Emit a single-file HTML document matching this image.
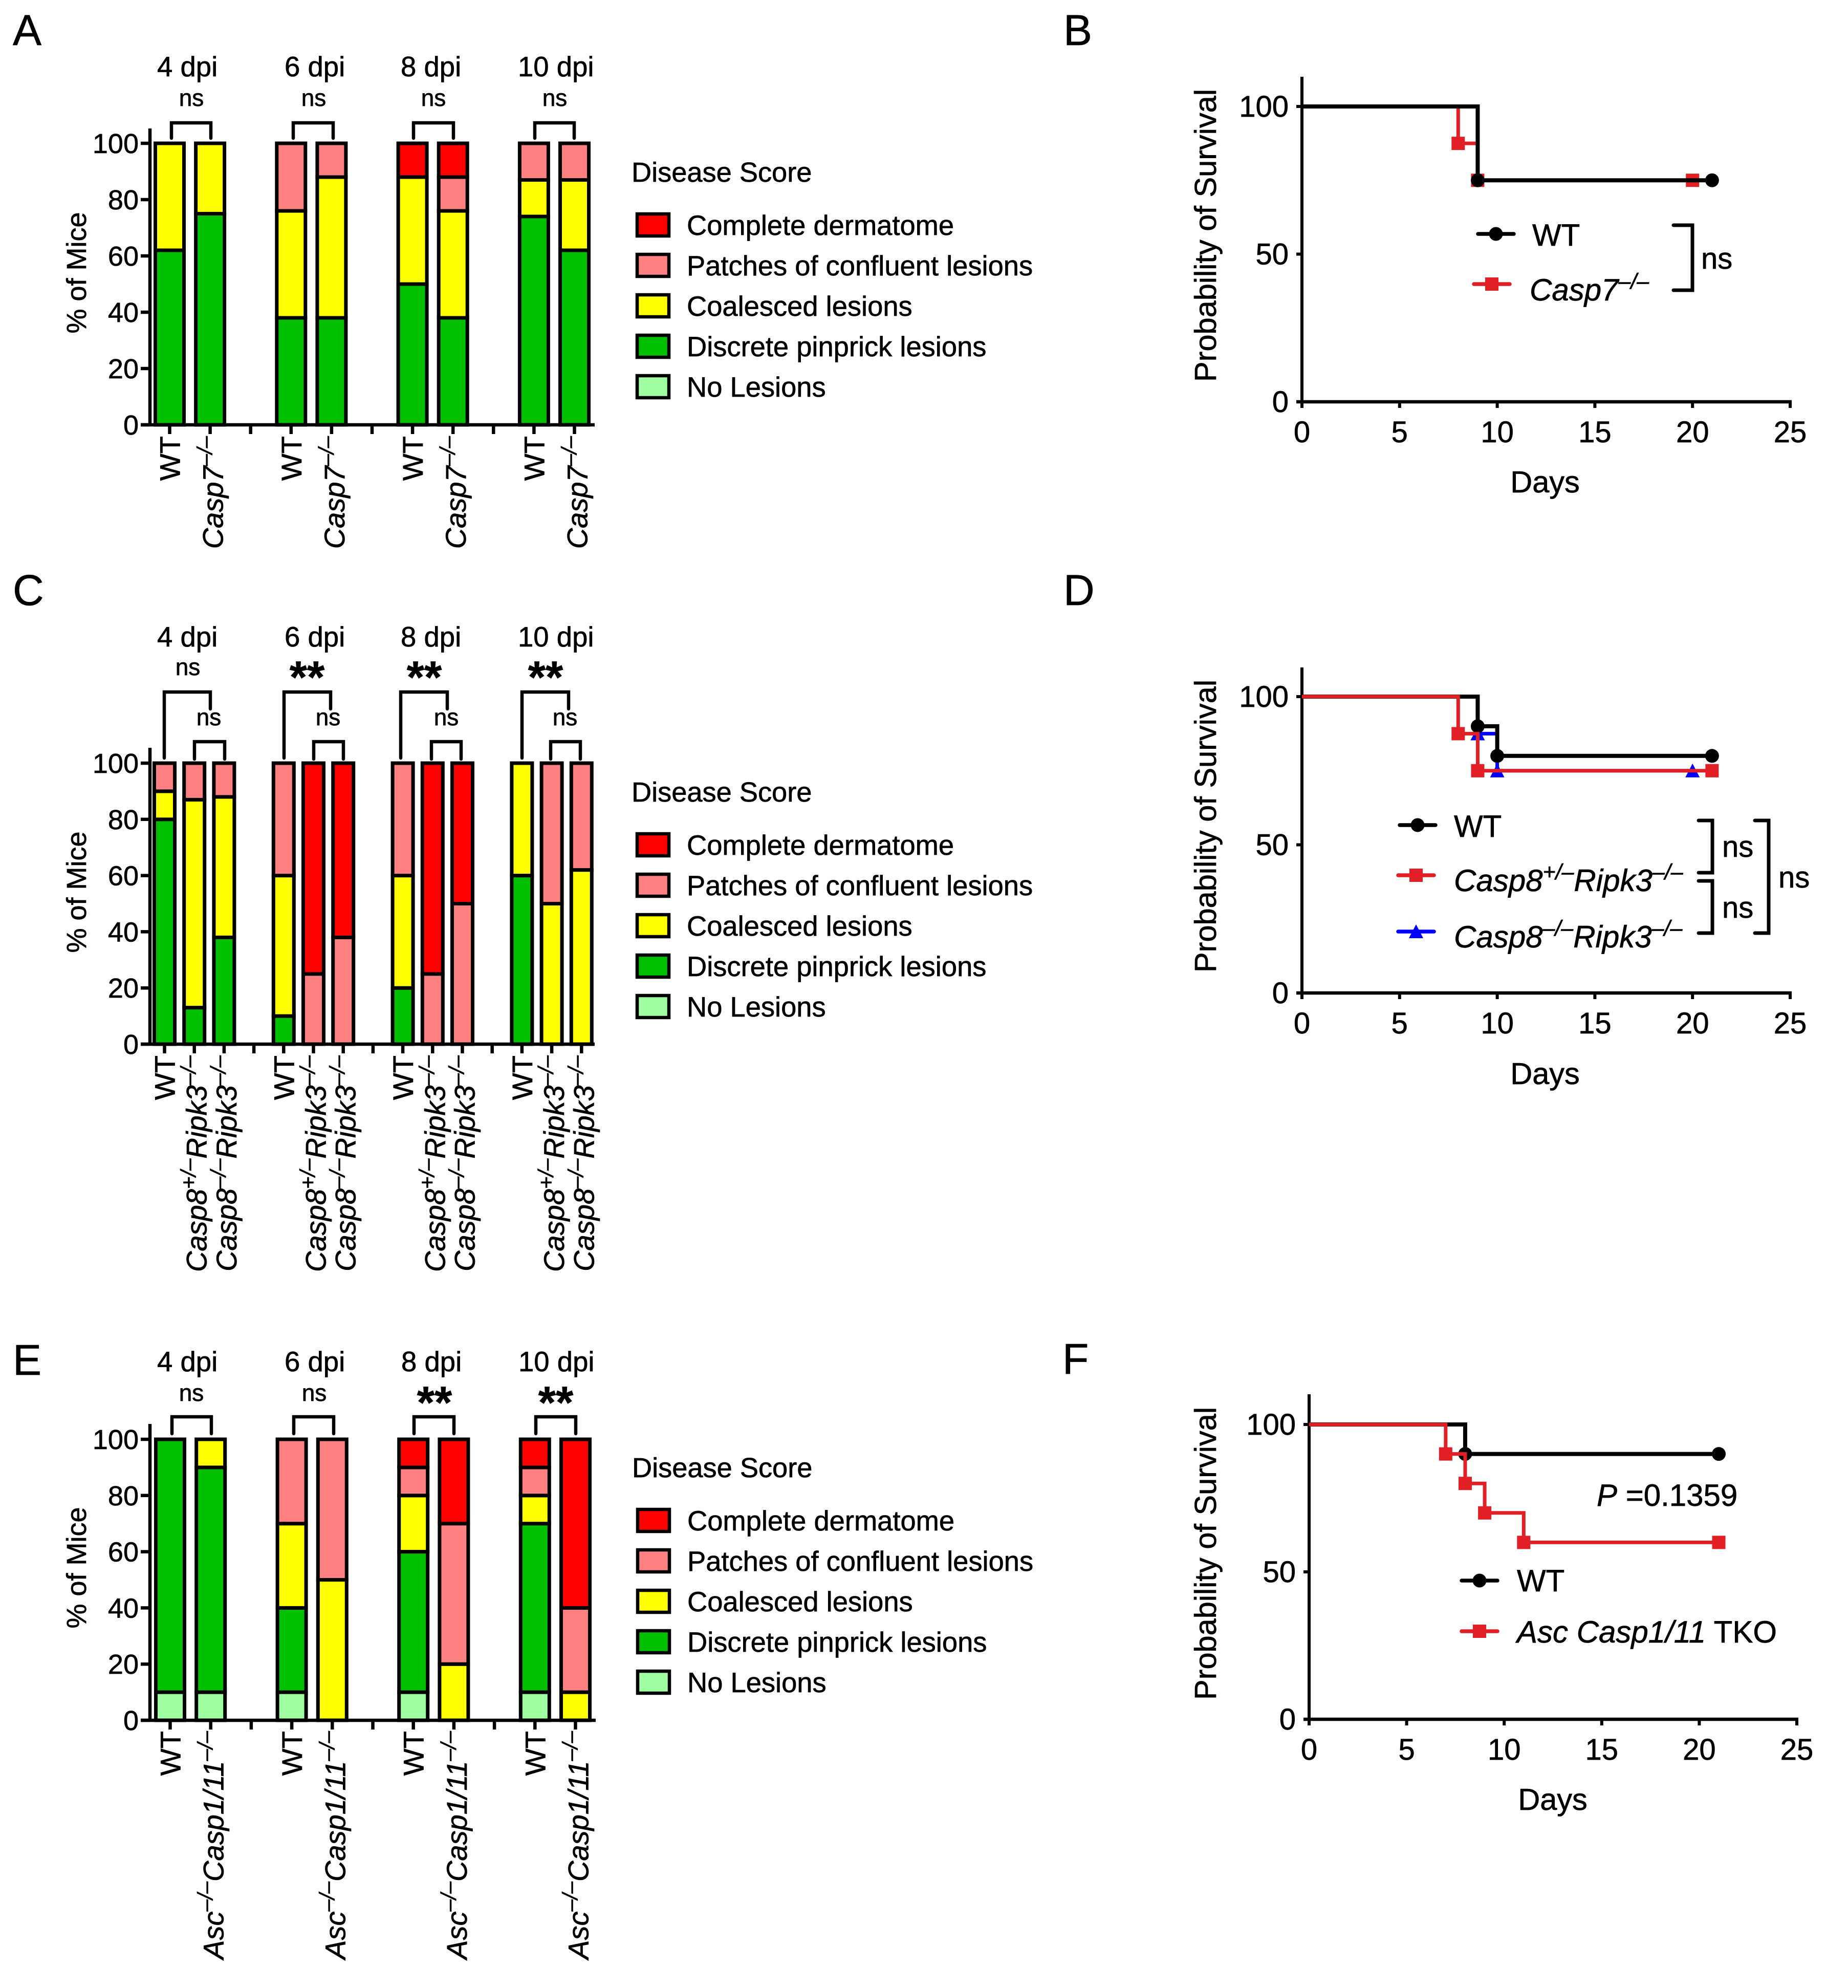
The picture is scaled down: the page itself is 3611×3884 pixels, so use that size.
<!DOCTYPE html>
<html lang="en">
<head>
<meta charset="utf-8">
<title>Disease score and survival panels</title>
<style>
html,body{margin:0;padding:0;background:#fff;}
svg{display:block;}
text{font-family:"Liberation Sans",Arial,sans-serif;fill:#000;stroke:#000;stroke-width:0.7px;}
.pl{font-size:84px;}
.d{font-size:54.5px;}
.n{font-size:46px;}
.st{font-size:88px;font-weight:bold;}
.ya{font-size:54px;}
.sa{font-size:59.5px;}
.lg{font-size:60px;}
.ns2{font-size:58px;}
.br{fill:none;stroke:#000;stroke-width:6.5;stroke-linecap:round;stroke-linejoin:miter;}
.br2{fill:none;stroke:#000;stroke-width:7;stroke-linecap:round;stroke-linejoin:miter;}
</style>
</head>
<body>
<svg id="figure" xmlns="http://www.w3.org/2000/svg" width="3611" height="3884" viewBox="0 0 3611 3884">
<rect x="0" y="0" width="3611" height="3884" fill="#fff"/>

<!-- Panel A -->
<g id="panelA">
<text class="pl" x="25" y="88">A</text>
<text class="d" x="307" y="149">4 dpi</text>
<text class="d" x="556" y="149">6 dpi</text>
<text class="d" x="783" y="149">8 dpi</text>
<text class="d" x="1012" y="149">10 dpi</text>
<text class="n" x="374" y="207" text-anchor="middle">ns</text>
<text class="n" x="613" y="207" text-anchor="middle">ns</text>
<text class="n" x="847" y="207" text-anchor="middle">ns</text>
<text class="n" x="1084" y="207" text-anchor="middle">ns</text>
<path class="br" d="M335,270V240H412V270"/>
<path class="br" d="M573,270V240H651V270"/>
<path class="br" d="M808,270V240H886V270"/>
<path class="br" d="M1045,270V240H1122V270"/>
<text class="ya" transform="translate(168,533) rotate(-90)" text-anchor="middle">% of Mice</text>
</g>

<!-- Panel B -->
<g id="panelB">
<text class="pl" x="2078" y="88">B</text>
<text class="sa" transform="translate(2376,460) rotate(-90)" text-anchor="middle">Probability of Survival</text>
<text class="sa" x="3019" y="962" text-anchor="middle">Days</text>
<text class="lg" x="2994" y="480">WT</text>
<text class="lg" x="2989" y="587" font-style="italic">Casp7<tspan font-size="43" dy="-23">–/–</tspan></text>
<path class="br2" d="M3270,440H3307V567H3270"/>
<text class="ns2" x="3324" y="525">ns</text>
</g>

<!-- Panel C -->
<g id="panelC">
<text class="pl" x="25" y="1182">C</text>
<text class="d" x="307" y="1263">4 dpi</text>
<text class="d" x="556" y="1263">6 dpi</text>
<text class="d" x="783" y="1263">8 dpi</text>
<text class="d" x="1012" y="1263">10 dpi</text>
<text class="n" x="367" y="1319" text-anchor="middle">ns</text>
<text class="st" x="600" y="1353" text-anchor="middle">**</text>
<text class="st" x="829" y="1353" text-anchor="middle">**</text>
<text class="st" x="1066" y="1353" text-anchor="middle">**</text>
<text class="n" x="408" y="1417" text-anchor="middle">ns</text>
<text class="n" x="641" y="1417" text-anchor="middle">ns</text>
<text class="n" x="872" y="1417" text-anchor="middle">ns</text>
<text class="n" x="1104" y="1417" text-anchor="middle">ns</text>
<path class="br" d="M321,1481V1352H411V1385"/>
<path class="br" d="M555,1481V1352H646V1385"/>
<path class="br" d="M783,1481V1352H874V1385"/>
<path class="br" d="M1020,1481V1352H1111V1385"/>
<path class="br" d="M380,1483V1449H439V1483"/>
<path class="br" d="M613,1483V1449H671V1483"/>
<path class="br" d="M843,1483V1449H901V1483"/>
<path class="br" d="M1076,1483V1449H1134V1483"/>
<text class="ya" transform="translate(168,1743) rotate(-90)" text-anchor="middle">% of Mice</text>
</g>

<!-- Panel D -->
<g id="panelD">
<text class="pl" x="2078" y="1182">D</text>
<text class="sa" transform="translate(2376,1614) rotate(-90)" text-anchor="middle">Probability of Survival</text>
<text class="sa" x="3019" y="2118" text-anchor="middle">Days</text>
<text class="lg" x="2841" y="1635">WT</text>
<text class="lg" x="2841" y="1741" font-style="italic">Casp8<tspan font-size="43" dy="-23">+/–</tspan><tspan dy="23">Ripk3</tspan><tspan font-size="43" dy="-23">–/–</tspan></text>
<text class="lg" x="2841" y="1851" font-style="italic">Casp8<tspan font-size="43" dy="-23">–/–</tspan><tspan dy="23">Ripk3</tspan><tspan font-size="43" dy="-23">–/–</tspan></text>
<path class="br2" d="M3319,1603H3346V1705H3319"/>
<path class="br2" d="M3319,1721H3346V1823H3319"/>
<path class="br2" d="M3429,1603H3456V1823H3429"/>
<text class="ns2" x="3365" y="1674">ns</text>
<text class="ns2" x="3365" y="1793">ns</text>
<text class="ns2" x="3475" y="1734">ns</text>
</g>

<!-- Panel E -->
<g id="panelE">
<text class="pl" x="25" y="2686">E</text>
<text class="d" x="307" y="2679">4 dpi</text>
<text class="d" x="556" y="2679">6 dpi</text>
<text class="d" x="784" y="2679">8 dpi</text>
<text class="d" x="1013" y="2679">10 dpi</text>
<text class="n" x="374" y="2737" text-anchor="middle">ns</text>
<text class="n" x="614" y="2737" text-anchor="middle">ns</text>
<text class="st" x="849" y="2770" text-anchor="middle">**</text>
<text class="st" x="1086" y="2770" text-anchor="middle">**</text>
<path class="br" d="M336,2801V2768H413V2801"/>
<path class="br" d="M574,2801V2768H652V2801"/>
<path class="br" d="M809,2801V2768H887V2801"/>
<path class="br" d="M1047,2801V2768H1125V2801"/>
<text class="ya" transform="translate(168,3063) rotate(-90)" text-anchor="middle">% of Mice</text>
</g>

<!-- Panel F -->
<g id="panelF">
<text class="pl" x="2076" y="2684">F</text>
<text class="sa" transform="translate(2376,3035) rotate(-90)" text-anchor="middle">Probability of Survival</text>
<text class="sa" x="3034" y="3536" text-anchor="middle">Days</text>
<text class="lg" x="3120" y="2942"><tspan font-style="italic">P</tspan> =0.1359</text>
<text class="lg" x="2964" y="3109">WT</text>
<text class="lg" x="2964" y="3209"><tspan font-style="italic">Asc Casp1/11</tspan> TKO</text>
</g>
</svg>

<script>
// ---------- Shared bar chart data ----------
const legendTitle = 'Disease Score';
const legendNames = ['Complete dermatome', 'Patches of confluent lesions', 'Coalesced lesions', 'Discrete pinprick lesions', 'No Lesions'];
const barTicks = [0, 20, 40, 60, 80, 100];

// ---------- Panel A ----------
const aCategories = ['WT', 'Casp7^–/–^', '', 'WT', 'Casp7^–/–^', '', 'WT', 'Casp7^–/–^', '', 'WT', 'Casp7^–/–^'];
const aNone     = [0, 0, null, 0, 0, null, 0, 0, null, 0, 0];
const aDiscrete = [62, 75, null, 38, 38, null, 50, 38, null, 74, 62];
const aCoalesced= [38, 25, null, 38, 50, null, 38, 38, null, 13, 25];
const aPatches  = [0, 0, null, 24, 12, null, 0, 12, null, 13, 13];
const aComplete = [0, 0, null, 0, 0, null, 12, 12, null, 0, 0];

// ---------- Panel C ----------
const cCategories = ['WT', 'Casp8^+/–^Ripk3^–/–^', 'Casp8^–/–^Ripk3^–/–^', '', 'WT', 'Casp8^+/–^Ripk3^–/–^', 'Casp8^–/–^Ripk3^–/–^', '', 'WT', 'Casp8^+/–^Ripk3^–/–^', 'Casp8^–/–^Ripk3^–/–^', '', 'WT', 'Casp8^+/–^Ripk3^–/–^', 'Casp8^–/–^Ripk3^–/–^'];
const cNone     = [0, 0, 0, null, 0, 0, 0, null, 0, 0, 0, null, 0, 0, 0];
const cDiscrete = [80, 13, 38, null, 10, 0, 0, null, 20, 0, 0, null, 60, 0, 0];
const cCoalesced= [10, 74, 50, null, 50, 0, 0, null, 40, 0, 0, null, 40, 50, 62];
const cPatches  = [10, 13, 12, null, 40, 25, 38, null, 40, 25, 50, null, 0, 50, 38];
const cComplete = [0, 0, 0, null, 0, 75, 62, null, 0, 75, 50, null, 0, 0, 0];

// ---------- Panel E ----------
const eCategories = ['WT', 'Asc^–/–^Casp1/11^–/–^', '', 'WT', 'Asc^–/–^Casp1/11^–/–^', '', 'WT', 'Asc^–/–^Casp1/11^–/–^', '', 'WT', 'Asc^–/–^Casp1/11^–/–^'];
const eNone     = [10, 10, null, 10, 0, null, 10, 0, null, 10, 0];
const eDiscrete = [90, 80, null, 30, 0, null, 50, 0, null, 60, 0];
const eCoalesced= [0, 10, null, 30, 50, null, 20, 20, null, 10, 10];
const ePatches  = [0, 0, null, 30, 50, null, 10, 50, null, 10, 30];
const eComplete = [0, 0, null, 0, 0, null, 10, 30, null, 10, 60];

// ---------- Survival data ----------
const survivalXTicks = [0, 5, 10, 15, 20, 25];
const survivalYTicks = [0, 50, 100];

const bWtDays = [0, 9, 21];
const bWtSurvival = [100, 75, 75];
const bKoDays = [0, 8, 9, 20];
const bKoSurvival = [100, 87.5, 75, 75];

const dWtDays = [0, 9, 10, 21];
const dWtSurvival = [100, 90, 80, 80];
const dHetDays = [0, 8, 9, 21];
const dHetSurvival = [100, 87.5, 75, 75];
const dKoDays = [0, 9, 10, 20];
const dKoSurvival = [100, 87.5, 75, 75];

const fWtDays = [0, 8, 21];
const fWtSurvival = [100, 90, 90];
const fTkoDays = [0, 7, 8, 9, 11, 21];
const fTkoSurvival = [100, 90, 80, 70, 60, 60];

// ---------- Drawing ----------
const NS = 'http://www.w3.org/2000/svg';
const FILLS = ['#A0FFA0', '#00C000', '#FFFF00', '#FF8080', '#FF0000'];
const RED = '#E31F26', BLUE = '#0000FF', BLACK = '#000000';

function el(tag, props, parent) {
  const n = document.createElementNS(NS, tag);
  for (const k in props) n.setAttribute(k, props[k]);
  parent.appendChild(n);
  return n;
}

function categoryLabel(parent, label, x, yTop, size) {
  const t = el('text', {
    transform: 'translate(' + x + ',' + yTop + ') rotate(-90)',
    'text-anchor': 'end',
    'font-size': size
  }, parent);
  
  
  if (label === 'WT') { t.textContent = label; return; }
  t.setAttribute('font-style', 'italic');
  const parts = label.split('^');
  const rise = Math.round(size * 0.375);
  let offset = 0;
  parts.forEach(function (p, i) {
    if (!p) return;
    const isSup = i % 2 === 1;
    const target = isSup ? -rise : 0;
    const sp = el('tspan', { dy: target - offset }, t);
    if (isSup) sp.setAttribute('font-size', Math.round(size * 0.75));
    sp.textContent = p;
    offset = target;
  });
}

function drawBarPanel(parent, o) {
  const yScale = function (v) { return o.y0 - (o.y0 - o.y100) * v / 100; };
  const xScale = function (i) { return o.x0 + o.step * i; };

  const yAxis = el('line', { x1: 293, x2: 293, y1: o.yTop, y2: o.y0 + 3, stroke: '#000', 'stroke-width': 6.5 }, parent);
  
  
  const xAxis = el('line', { x1: 275, x2: o.xEnd, y1: o.y0, y2: o.y0, stroke: '#000', 'stroke-width': 6.5 }, parent);
  
  

  barTicks.forEach(function (v) {
    const tk = el('line', { x1: 275, x2: 293, y1: yScale(v), y2: yScale(v), stroke: '#000', 'stroke-width': 6.5 }, parent);
    
    
    const lb = el('text', { x: 271, y: yScale(v) + 19, 'text-anchor': 'end', 'font-size': 54 }, parent);
    
    
    lb.textContent = v;
  });

  o.categories.forEach(function (label, i) {
    const cx = xScale(i);
    const tk = el('line', { x1: cx, x2: cx, y1: o.y0, y2: o.y0 + 18, stroke: '#000', 'stroke-width': 6.5 }, parent);
    
    
    if (!label) return;
    let base = 0;
    o.series.forEach(function (values, s) {
      const v = values[i];
      if (!v) return;
      const r = el('rect', {
        x: cx - o.barWidth / 2,
        y: yScale(base + v),
        width: o.barWidth,
        height: yScale(base) - yScale(base + v),
        fill: FILLS[s], stroke: '#000', 'stroke-width': 7
      }, parent);
      
      
      base += v;
    });
    categoryLabel(parent, label, cx + (label === 'WT' ? 20 : o.labelShift), o.y0 + o.labelGap, 56);
  });
}

function drawLegend(parent, dx, dy) {
  const title = el('text', { x: 1234 + dx, y: 355 + dy, 'font-size': 54.2 }, parent);
  
  
  title.textContent = legendTitle;
  legendNames.forEach(function (name, i) {
    const sw = el('rect', {
      x: 1245 + dx, y: 418 + dy + i * 79, width: 62, height: 43,
      fill: FILLS[4 - i], stroke: '#000', 'stroke-width': 6.5
    }, parent);
    
    
    const t = el('text', { x: 1342 + dx, y: 459 + dy + i * 79, 'font-size': 54.3 }, parent);
    
    
    t.textContent = name;
  });
}

function marker(parent, kind, cx, cy, color) {
  let m;
  if (kind === 'circle') {
    m = el('circle', { cx: cx, cy: cy, r: 13.5, fill: color }, parent);
  } else if (kind === 'square') {
    m = el('rect', { x: cx - 13, y: cy - 13, width: 26, height: 26, fill: color }, parent);
  } else {
    m = el('polygon', { points: (cx - 14) + ',' + (cy + 13) + ' ' + (cx + 14) + ',' + (cy + 13) + ' ' + cx + ',' + (cy - 14), fill: color }, parent);
  }
  
  
}

function drawSurvivalPanel(parent, o) {
  const xScale = function (d) { return o.x0 + (o.x25 - o.x0) * d / 25; };
  const yScale = function (s) { return o.y0 - (o.y0 - o.y100) * s / 100; };

  const yAxis = el('line', { x1: o.x0, x2: o.x0, y1: o.yTop, y2: o.y0 + 3, stroke: '#000', 'stroke-width': 6 }, parent);
  
  
  const xAxis = el('line', { x1: o.x0 - 11, x2: o.x25 + 3, y1: o.y0, y2: o.y0, stroke: '#000', 'stroke-width': 6.5 }, parent);
  
  

  survivalYTicks.forEach(function (v) {
    const tk = el('line', { x1: o.x0 - 11, x2: o.x0, y1: yScale(v), y2: yScale(v), stroke: '#000', 'stroke-width': 6 }, parent);
    
    
    const lb = el('text', { x: o.x0 - 26, y: yScale(v) + 20, 'text-anchor': 'end', 'font-size': 58 }, parent);
    
    
    lb.textContent = v;
  });
  survivalXTicks.forEach(function (v) {
    const tk = el('line', { x1: xScale(v), x2: xScale(v), y1: o.y0, y2: o.y0 + 12, stroke: '#000', 'stroke-width': 6 }, parent);
    
    
    const lb = el('text', { x: xScale(v), y: o.y0 + 79, 'text-anchor': 'middle', 'font-size': 58 }, parent);
    
    
    lb.textContent = v;
  });

  o.curves.forEach(function (c) {
    let d = 'M' + xScale(c.days[0]) + ',' + yScale(c.values[0]);
    for (let i = 1; i < c.days.length; i++) {
      d += 'H' + xScale(c.days[i]) + 'V' + yScale(c.values[i]);
    }
    const path = el('path', { d: d, fill: 'none', stroke: c.color, 'stroke-width': c.width, 'stroke-linejoin': 'miter' }, parent);
    
    
    for (let i = 1; i < c.days.length; i++) {
      marker(parent, c.kind, xScale(c.days[i]), yScale(c.values[i]), c.color);
    }
  });

  o.legend.forEach(function (l) {
    const ln = el('line', { x1: l.x1, x2: l.x2, y1: l.y, y2: l.y, stroke: l.color, 'stroke-width': 7.5, 'stroke-linecap': 'round' }, parent);
    
    
    marker(parent, l.kind, (l.x1 + l.x2) / 2, l.y, l.color);
  });
}

// ---------- Render ----------
const pA = document.getElementById('panelA');
const pB = document.getElementById('panelB');
const pC = document.getElementById('panelC');
const pD = document.getElementById('panelD');
const pE = document.getElementById('panelE');
const pF = document.getElementById('panelF');

drawBarPanel(pA, {
  categories: aCategories, series: [aNone, aDiscrete, aCoalesced, aPatches, aComplete],
  x0: 331.5, step: 79.1, barWidth: 56, y0: 830, y100: 280, yTop: 251, xEnd: 1162, labelShift: 25, labelGap: 22
});
drawLegend(pA, 0, 0);

drawBarPanel(pC, {
  categories: cCategories, series: [cNone, cDiscrete, cCoalesced, cPatches, cComplete],
  x0: 321.5, step: 58.2, barWidth: 40, y0: 2040, y100: 1491, yTop: 1461, xEnd: 1162, labelShift: 24, labelGap: 22
});
drawLegend(pC, 0, 1211);

drawBarPanel(pE, {
  categories: eCategories, series: [eNone, eDiscrete, eCoalesced, ePatches, eComplete],
  x0: 332.5, step: 79.2, barWidth: 56, y0: 3361, y100: 2812, yTop: 2782, xEnd: 1164, labelShift: 25, labelGap: 21
});
drawLegend(pE, 1, 2531);

drawSurvivalPanel(pB, {
  x0: 2544, x25: 3498, y0: 785, y100: 208, yTop: 150,
  curves: [
    { days: bKoDays, values: bKoSurvival, color: RED, width: 7, kind: 'square' },
    { days: bWtDays, values: bWtSurvival, color: BLACK, width: 8, kind: 'circle' }
  ],
  legend: [
    { x1: 2888, x2: 2958, y: 457, color: BLACK, kind: 'circle' },
    { x1: 2880, x2: 2950, y: 555, color: RED, kind: 'square' }
  ]
});

drawSurvivalPanel(pD, {
  x0: 2544, x25: 3498, y0: 1940, y100: 1361, yTop: 1304,
  curves: [
    { days: dKoDays, values: dKoSurvival, color: BLUE, width: 7, kind: 'triangle' },
    { days: dWtDays, values: dWtSurvival, color: BLACK, width: 8, kind: 'circle' },
    { days: dHetDays, values: dHetSurvival, color: RED, width: 7, kind: 'square' }
  ],
  legend: [
    { x1: 2735, x2: 2805, y: 1612, color: BLACK, kind: 'circle' },
    { x1: 2732, x2: 2802, y: 1710, color: RED, kind: 'square' },
    { x1: 2732, x2: 2802, y: 1820, color: BLUE, kind: 'triangle' }
  ]
});

drawSurvivalPanel(pF, {
  x0: 2558, x25: 3511, y0: 3359, y100: 2783, yTop: 2724,
  curves: [
    { days: fWtDays, values: fWtSurvival, color: BLACK, width: 8, kind: 'circle' },
    { days: fTkoDays, values: fTkoSurvival, color: RED, width: 7, kind: 'square' }
  ],
  legend: [
    { x1: 2856, x2: 2926, y: 3088, color: BLACK, kind: 'circle' },
    { x1: 2856, x2: 2926, y: 3187, color: RED, kind: 'square' }
  ]
});
</script>
</body>
</html>
